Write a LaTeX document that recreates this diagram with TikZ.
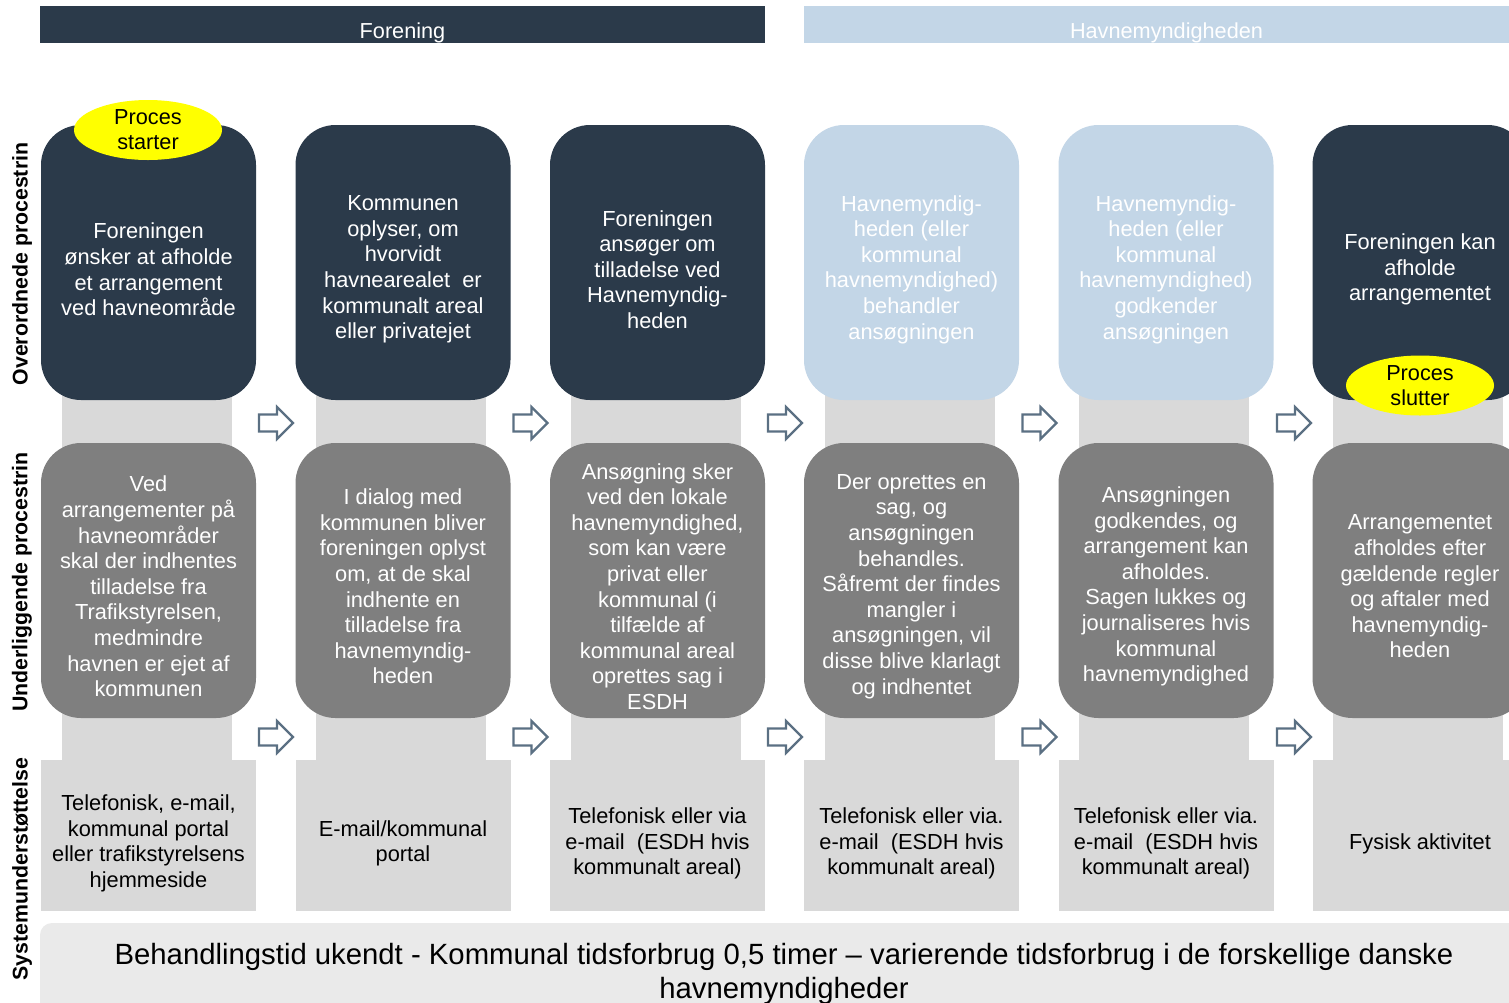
\documentclass[tikz,border=0pt]{standalone}
\usepackage{fontspec}
\setmainfont{Liberation Sans}
\usetikzlibrary{shapes.geometric}
\definecolor{navy}{HTML}{2B3A4A}
\definecolor{lblue}{HTML}{C3D6E7}
\definecolor{midgray}{HTML}{7F7F7F}
\definecolor{strip}{HTML}{D9D9D9}
\definecolor{barbg}{HTML}{EAEAEA}
\definecolor{arrowc}{HTML}{5B7083}
\definecolor{procyellow}{HTML}{FFFF00}
\newcommand\boxfont{\fontsize{21.8}{25.6}\selectfont}
\begin{document}
\begin{tikzpicture}[x=1pt,y=-1pt,
  base/.style={inner sep=0pt, outer sep=0pt},
  txt/.style={inner sep=0pt, outer sep=0pt, align=center, font=\boxfont},
  topbox/.style={base, rounded corners=40pt, minimum width=215pt, minimum height=275pt, fill=navy},
  topboxlight/.style={topbox, fill=lblue},
  midbox/.style={base, rounded corners=40pt, minimum width=215pt, minimum height=275pt, fill=midgray},
  sysbox/.style={base, minimum width=215pt, minimum height=151pt, fill=strip},
  stripbox/.style={inner sep=0pt, outer sep=0pt, fill=strip, minimum width=170pt},
  procell/.style={ellipse, fill=procyellow, inner sep=0pt, minimum width=148pt, minimum height=60pt, align=center, font=\fontsize{21.7}{25}\selectfont},
  header/.style={inner sep=0pt, outer sep=0pt, minimum height=37pt},
  headtxt/.style={inner sep=0pt, font=\fontsize{21.7}{24}\selectfont, text=white},
  sidelabel/.style={rotate=90, inner sep=0pt, font=\bfseries\fontsize{21.3}{24}\selectfont},
  blockarrow/.style={draw=arrowc, line width=2.2pt, fill=white, line join=miter}
]
\useasboundingbox (0,0) rectangle (1509,1002);
\fill[white] (0,0) rectangle (1509,1002);

% headers
\node[header, fill=navy, minimum width=725pt] (hforening) at (402.5,24.5) {};
\node[header, fill=lblue, minimum width=725pt] (hhavn) at (1166.5,24.5) {};
\node[headtxt] (hforeningtxt) at ([yshift=-8pt]hforening.center) {Forening};
\node[headtxt] (hhavntxt) at ([yshift=-8pt]hhavn.center) {Havnemyndigheden};

% side labels
\node[sidelabel] (l1) at (22,264) {Overordnede procestrin};
\node[sidelabel] (l2) at (22,582) {Underliggende procestrin};
\node[sidelabel] (l3) at (22,869) {Systemunderstøttelse};

% connector strips behind boxes
\foreach \c/\i in {146.5/1,401/2,655.5/3,909.5/4,1164/5,1418/6}{
  \node[stripbox, minimum height=60pt] (sa\i) at (\c,421.5) {};
  \node[stripbox, minimum height=60pt] (sb\i) at (\c,739) {};
}

% top boxes
\node[topbox] (t1) at (148.5,262.5) {};
\node[topbox] (t2) at (403,262.5) {};
\node[topbox] (t3) at (657.5,262.5) {};
\node[topboxlight] (t4) at (911.5,262.5) {};
\node[topboxlight] (t5) at (1166,262.5) {};
\node[topbox] (t6) at (1420,262.5) {};
\begin{scope}[every node/.style={txt, text=white}]
\node (t1x) at ([yshift=-7pt]t1.center) {Foreningen\\ønsker at afholde\\et arrangement\\ved havneområde};
\node (t2x) at ([yshift=-7pt]t2.center) {Kommunen\\oplyser, om\\hvorvidt\\havnearealet~ er\\kommunalt areal\\eller privatejet};
\node (t3x) at ([yshift=-7pt]t3.center) {Foreningen\\ansøger om\\tilladelse ved\\Havnemyndig-\\heden};
\node (t4x) at ([yshift=-7pt]t4.center) {Havnemyndig-\\heden (eller\\kommunal\\havnemyndighed)\\behandler\\ansøgningen};
\node (t5x) at ([yshift=-7pt]t5.center) {Havnemyndig-\\heden (eller\\kommunal\\havnemyndighed)\\godkender\\ansøgningen};
\node (t6x) at ([yshift=-7pt]t6.center) {Foreningen kan\\afholde\\arrangementet};
\end{scope}

% middle boxes
\node[midbox] (m1) at (148.5,580.5) {};
\node[midbox] (m2) at (403,580.5) {};
\node[midbox] (m3) at (657.5,580.5) {};
\node[midbox] (m4) at (911.5,580.5) {};
\node[midbox] (m5) at (1166,580.5) {};
\node[midbox] (m6) at (1420,580.5) {};
\begin{scope}[every node/.style={txt, text=white}]
\node (m1x) at ([yshift=-6pt]m1.center) {Ved\\arrangementer på\\havneområder\\skal der indhentes\\tilladelse fra\\Trafikstyrelsen,\\medmindre\\havnen er ejet af\\kommunen};
\node (m2x) at ([yshift=-6pt]m2.center) {I dialog med\\kommunen bliver\\foreningen oplyst\\om, at de skal\\indhente en\\tilladelse fra\\havnemyndig-\\heden};
\node (m3x) at ([yshift=-6pt]m3.center) {Ansøgning sker\\ved den lokale\\havnemyndighed,\\som kan være\\privat eller\\kommunal (i\\tilfælde af\\kommunal areal\\oprettes sag i\\ESDH};
\node (m4x) at ([yshift=-6pt]m4.center) {Der oprettes en\\sag, og\\ansøgningen\\behandles.\\Såfremt der findes\\mangler i\\ansøgningen, vil\\disse blive klarlagt\\og indhentet};
\node (m5x) at ([yshift=-6pt]m5.center) {Ansøgningen\\godkendes, og\\arrangement kan\\afholdes.\\Sagen lukkes og\\journaliseres hvis\\kommunal\\havnemyndighed};
\node (m6x) at ([yshift=-6pt]m6.center) {Arrangementet\\afholdes efter\\gældende regler\\og aftaler med\\havnemyndig-\\heden};
\end{scope}

% system boxes
\node[sysbox] (s1) at (148.5,835.5) {};
\node[sysbox] (s2) at (403,835.5) {};
\node[sysbox] (s3) at (657.5,835.5) {};
\node[sysbox] (s4) at (911.5,835.5) {};
\node[sysbox] (s5) at (1166,835.5) {};
\node[sysbox] (s6) at (1420,835.5) {};
\begin{scope}[every node/.style={txt, text=black}]
\node (s1x) at ([yshift=-8pt]s1.center) {Telefonisk, e-mail,\\kommunal portal\\eller trafikstyrelsens\\hjemmeside};
\node (s2x) at ([yshift=-8pt]s2.center) {E-mail/kommunal\\portal};
\node (s3x) at ([yshift=-8pt]s3.center) {Telefonisk eller via\\e-mail~ (ESDH hvis\\kommunalt areal)};
\node (s4x) at ([yshift=-8pt]s4.center) {Telefonisk eller via.\\e-mail~ (ESDH hvis\\kommunalt areal)};
\node (s5x) at ([yshift=-8pt]s5.center) {Telefonisk eller via.\\e-mail~ (ESDH hvis\\kommunalt areal)};
\node (s6x) at ([yshift=-8pt]s6.center) {Fysisk aktivitet};
\end{scope}

% block arrows
\foreach \x in {259,513.5,768,1022.5,1277}{
  \foreach \y in {423,737}{
    \draw[blockarrow] (\x,\y-8.5) -- (\x+18,\y-8.5) -- (\x+18,\y-16) -- (\x+34,\y) -- (\x+18,\y+16) -- (\x+18,\y+8.5) -- (\x,\y+8.5) -- cycle;
  }
}

% process ellipses
\node[procell] (start) at (148,130) {Proces\\starter};
\node[procell] (stop) at (1420,385.5) {Proces\\slutter};

% bottom bar
\fill[barbg, rounded corners=12pt] (40,923) rectangle (1540,1040);
\node[inner sep=0pt, align=center, font=\fontsize{29.3}{34}\selectfont, anchor=north] (bar) at (784,943) {Behandlingstid ukendt - Kommunal tidsforbrug 0,5 timer – varierende tidsforbrug i de forskellige danske\\havnemyndigheder};
\end{tikzpicture}
\end{document}
